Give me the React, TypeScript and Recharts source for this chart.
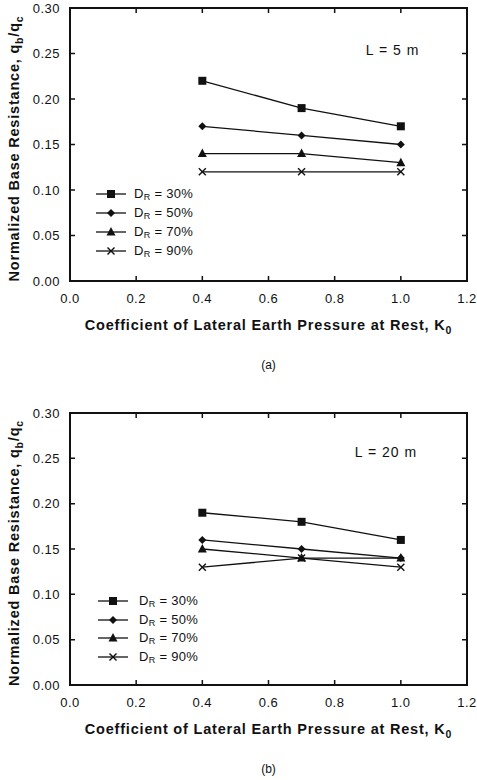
import * as React from 'react';
import {
  LineChart,
  Line,
  XAxis,
  YAxis,
  Legend,
  ReferenceDot,
  Label,
} from 'recharts';

// K0 values shared by both panels
const k0Values = [0.4, 0.7, 1.0];

// panel (a) L = 5 m
const l5Dr30 = [0.22, 0.19, 0.17];
const l5Dr50 = [0.17, 0.16, 0.15];
const l5Dr70 = [0.14, 0.14, 0.13];
const l5Dr90 = [0.12, 0.12, 0.12];

// panel (b) L = 20 m
const l20Dr30 = [0.19, 0.18, 0.16];
const l20Dr50 = [0.16, 0.15, 0.14];
const l20Dr70 = [0.15, 0.14, 0.14];
const l20Dr90 = [0.13, 0.14, 0.13];

const xTicks = [0, 0.2, 0.4, 0.6, 0.8, 1.0, 1.2];
const yTicks = [0, 0.05, 0.1, 0.15, 0.2, 0.25, 0.3];

const seriesKeys = ['dr30', 'dr50', 'dr70', 'dr90'];
const seriesNames = ['30%', '50%', '70%', '90%'];
const seriesShapes = ['square', 'diamond', 'triangle', 'cross'];

const FONT = '"Liberation Sans", Arial, Helvetica, sans-serif';
const INK = '#111';
const TICK = 5;
const CHART_W = 477;
const CHART_H = 390;
const Y_AXIS_W = 70;
const RIGHT = 10;

const buildRows = (cols: number[][]) =>
  k0Values.map((k, i) => {
    const row: Record<string, number> = { k };
    seriesKeys.forEach((key, s) => {
      row[key] = cols[s][i];
    });
    return row;
  });

const Marker = ({ shape, cx, cy }: { shape: string; cx: number; cy: number }) => {
  if (shape === 'square') {
    return <rect x={cx - 4} y={cy - 4} width={8} height={8} fill={INK} />;
  }
  if (shape === 'diamond') {
    return (
      <polygon
        points={`${cx},${cy - 4} ${cx + 4},${cy} ${cx},${cy + 4} ${cx - 4},${cy}`}
        fill={INK}
      />
    );
  }
  if (shape === 'triangle') {
    return (
      <polygon
        points={`${cx},${cy - 5} ${cx + 4.5},${cy + 3.5} ${cx - 4.5},${cy + 3.5}`}
        fill={INK}
      />
    );
  }
  return (
    <g stroke={INK} strokeWidth={1.4}>
      <line x1={cx - 3.5} y1={cy - 3.5} x2={cx + 3.5} y2={cy + 3.5} />
      <line x1={cx - 3.5} y1={cy + 3.5} x2={cx + 3.5} y2={cy - 3.5} />
    </g>
  );
};

const LegendBox = ({ rowHeight, textGap }: { rowHeight: number; textGap: number }) => (
  <div style={{ fontFamily: FONT, fontSize: 13, color: INK, letterSpacing: 0.3 }}>
    {seriesNames.map((name, i) => (
      <div key={name} style={{ display: 'flex', alignItems: 'center', height: rowHeight }}>
        <svg width={30} height={12} style={{ marginRight: textGap }}>
          <line x1={0} y1={6} x2={30} y2={6} stroke={INK} strokeWidth={1.3} />
          <Marker shape={seriesShapes[i]} cx={15} cy={6} />
        </svg>
        <span>
          D<sub style={{ fontSize: 9, verticalAlign: '-2px' }}>R</sub> = {name}
        </span>
      </div>
    ))}
  </div>
);

const YTitle = (props: any) => {
  const vb = props.viewBox;
  const cy = vb.y + vb.height / 2;
  return (
    <text
      transform={`translate(19, ${cy + 4}) rotate(-90)`}
      textAnchor="middle"
      fontFamily={FONT}
      fontWeight="bold"
      fontSize={14.5}
      letterSpacing={0.8}
      fill={INK}
    >
      Normalized Base Resistance, q
      <tspan fontSize={10.5} dy={4}>b</tspan>
      <tspan dy={-4}>/q</tspan>
      <tspan fontSize={10.5} dy={4}>c</tspan>
    </text>
  );
};

// x-axis title and caption, plus inward ticks on all four sides of the frame
const XTitle = (props: any) => {
  const vb = props.viewBox;
  const plotH = props.plotH;
  const left = vb.x;
  const right = vb.x + vb.width;
  const bottom = vb.y;
  const topY = bottom - plotH;
  const xMax = xTicks[xTicks.length - 1];
  const yMax = yTicks[yTicks.length - 1];
  const cx = vb.x + vb.width / 2;
  const tickPath = [
    ...xTicks.map((t) => {
      const px = left + (vb.width * t) / xMax;
      return `M${px},${bottom}V${bottom - TICK}M${px},${topY}V${topY + TICK}`;
    }),
    ...yTicks.map((t) => {
      const py = bottom - (plotH * t) / yMax;
      return `M${left},${py}H${left + TICK}M${right},${py}H${right - TICK}`;
    }),
  ].join('');
  return (
    <g>
      <g stroke={INK} strokeWidth={2} fill="none">
        <path d={`M${left},${topY}H${right}V${bottom}H${left}Z`} />
      </g>
      <g stroke={INK} strokeWidth={1.5} fill="none">
        <path d={tickPath} />
      </g>
      <g fontFamily={FONT} fill={INK}>
        <text
          x={cx}
          y={vb.y + 49}
          textAnchor="middle"
          fontWeight="bold"
          fontSize={14.5}
          letterSpacing={0.8}
        >
          Coefficient of Lateral Earth Pressure at Rest, K
          <tspan fontSize={10.5} dy={4}>0</tspan>
        </text>
        <text x={cx} y={vb.y + 88} textAnchor="middle" fontSize={12}>
          {props.caption}
        </text>
      </g>
    </g>
  );
};

type PanelProps = {
  cols: number[][];
  caption: string;
  lengthText: string;
  noteAt: [number, number];
  top: number;
  axisHeight: number;
  legendLeft: number;
  legendTop: number;
  legendRow: number;
  legendGap: number;
};

const Panel = ({
  cols,
  caption,
  lengthText,
  noteAt,
  top,
  axisHeight,
  legendLeft,
  legendTop,
  legendRow,
  legendGap,
}: PanelProps) => {
  const data = buildRows(cols);
  const plotH = CHART_H - top - axisHeight;
  const plotW = CHART_W - Y_AXIS_W - RIGHT;
  const tickStyle = { fontSize: 13, fill: INK, fontFamily: FONT, letterSpacing: 0.5 };
  const axisLine = { stroke: INK, strokeWidth: 2 };
  return (
    <div style={{ position: 'relative', width: CHART_W, height: CHART_H }}>
      <LineChart
        width={CHART_W}
        height={CHART_H}
        data={data}
        margin={{ top, right: RIGHT, left: 0, bottom: 0 }}
      >
        <XAxis
          dataKey="k"
          type="number"
          domain={[0, 1.2]}
          ticks={xTicks}
          tickFormatter={(v: number) => v.toFixed(1)}
          tick={tickStyle}
          tickSize={0}
          tickMargin={13}
          axisLine={axisLine}
          tickLine={false}
          height={axisHeight}
          interval={0}
        >
          <Label content={(p: any) => <XTitle {...p} caption={caption} plotH={plotH} />} />
        </XAxis>
        <YAxis
          type="number"
          domain={[0, 0.3]}
          ticks={yTicks}
          tickFormatter={(v: number) => v.toFixed(2)}
          tick={tickStyle}
          tickSize={0}
          tickMargin={10}
          axisLine={axisLine}
          tickLine={false}
          width={Y_AXIS_W}
          interval={0}
        >
          <Label content={(p: any) => <YTitle {...p} />} />
        </YAxis>
        <ReferenceDot
          x={noteAt[0]}
          y={noteAt[1]}
          r={0}
          fill="none"
          stroke="none"
          label={{
            value: lengthText,
            position: 'center',
            fontSize: 14,
            letterSpacing: 1,
            fill: INK,
            fontFamily: FONT,
          }}
        />
        {seriesKeys.map((key, i) => (
          <Line
            key={key}
            dataKey={key}
            type="linear"
            stroke={INK}
            strokeWidth={1.3}
            isAnimationActive={false}
            dot={(p: any) => (
              <Marker key={`${key}-${p.index}`} shape={seriesShapes[i]} cx={p.cx} cy={p.cy} />
            )}
            activeDot={false}
          />
        ))}
        <Legend
          layout="vertical"
          align="center"
          verticalAlign="middle"
          wrapperStyle={{ left: legendLeft, top: legendTop, width: 'auto', height: 'auto' }}
          content={() => <LegendBox rowHeight={legendRow} textGap={legendGap} />}
        />
      </LineChart>
      {/* closed plot frame */}
      <div
        style={{
          position: 'absolute',
          left: Y_AXIS_W - 1,
          top: top - 1,
          width: plotW + 2,
          height: plotH + 2,
          border: `2px solid ${INK}`,
          boxSizing: 'border-box',
          pointerEvents: 'none',
        }}
      />
    </div>
  );
};

export default function App() {
  return (
    <div style={{ position: 'absolute', left: 0, top: 0, width: CHART_W, height: 780, background: '#fff' }}>
      <Panel
        cols={[l5Dr30, l5Dr50, l5Dr70, l5Dr90]}
        caption="(a)"
        lengthText="L = 5 m"
        noteAt={[0.975, 0.254]}
        top={8}
        axisHeight={109}
        legendLeft={96}
        legendTop={184}
        legendRow={19}
        legendGap={8}
      />
      <Panel
        cols={[l20Dr30, l20Dr50, l20Dr70, l20Dr90]}
        caption="(b)"
        lengthText="L = 20 m"
        noteAt={[0.955, 0.257]}
        top={23}
        axisHeight={95}
        legendLeft={98}
        legendTop={202}
        legendRow={18.5}
        legendGap={11}
      />
    </div>
  );
}
